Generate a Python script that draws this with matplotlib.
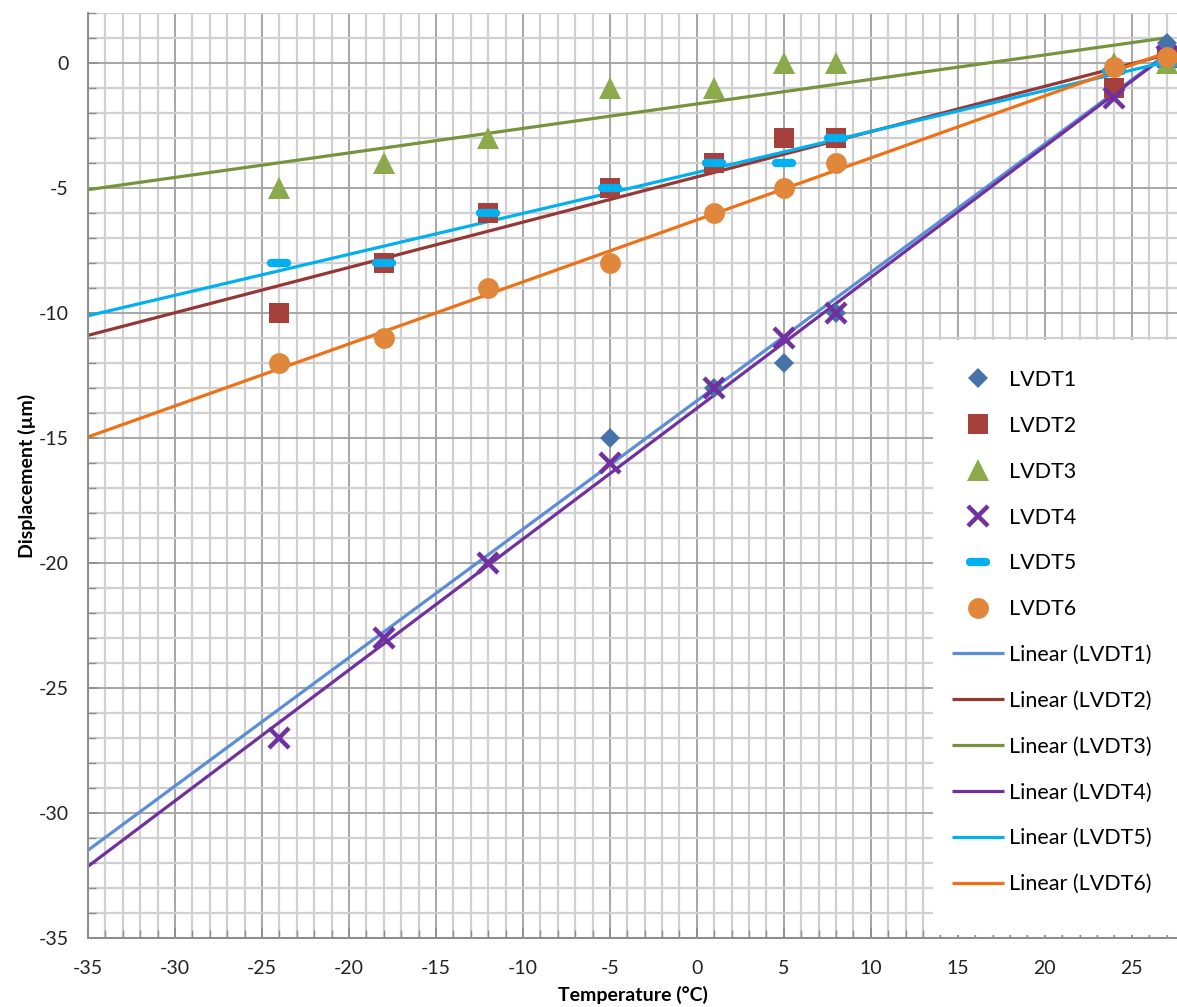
import numpy as np
import matplotlib
matplotlib.use("Agg")
import matplotlib.pyplot as plt
from matplotlib.markers import MarkerStyle
from matplotlib.patches import Rectangle
from matplotlib.ticker import MultipleLocator

plt.rcParams['font.family'] = ['Lato', 'DejaVu Sans']
plt.rcParams['axes.unicode_minus'] = False

# ---- data ----
temperature = [-24, -18, -12, -5, 1, 5, 8, 24, 27]
lvdt1 = [np.nan, np.nan, np.nan, -15, -13, -12, -10, -1, 0.8]
lvdt2 = [-10, -8, -6, -5, -4, -3, -3, -1, 0.2]
lvdt3 = [-5, -4, -3, -1, -1, 0, 0, 0, 0]
lvdt4 = [-27, -23, -20, -16, -13, -11, -10, -1.4, 0.3]
lvdt5 = [-8, -8, -6, -5, -4, -4, -3, -0.3, 0]
lvdt6 = [-12, -11, -9, -8, -6, -5, -4, -0.15, 0.25]

series_names = ["LVDT1", "LVDT2", "LVDT3", "LVDT4", "LVDT5", "LVDT6"]
series_values = [lvdt1, lvdt2, lvdt3, lvdt4, lvdt5, lvdt6]

x_ticks = [-35, -30, -25, -20, -15, -10, -5, 0, 5, 10, 15, 20, 25]
y_ticks = [-35, -30, -25, -20, -15, -10, -5, 0]
X_MIN, X_MAX = -35, 27.6
Y_MIN, Y_MAX = -35, 2

# ---- styles ----
marker_styles = [
    dict(marker='D', ms=10.5, color='#4672AA', mew=0),
    dict(marker='s', ms=14.5, color='#A5403D', mew=0),
    dict(marker='^', ms=16, color='#8AAA4C', mew=0),
    dict(marker='x', ms=15, color='#7030A0', mew=3.2),
    dict(marker=MarkerStyle('_', capstyle='round'), ms=11, color='#00B0F0', mew=6),
    dict(marker='o', ms=15, color='#E0873C', mew=0),
]
line_colors = ['#5B8ED6', '#953735', '#77933C', '#7030A0', '#00B0F0', '#EE7117']

fig = plt.figure(figsize=(11.77, 10.07), dpi=100)
ax = fig.add_axes([0.0748, 0.069, 0.9252, 0.9176])

ax.set_xlim(X_MIN, X_MAX)
ax.set_ylim(Y_MIN, Y_MAX)
ax.xaxis.set_minor_locator(MultipleLocator(1))
ax.yaxis.set_minor_locator(MultipleLocator(1))
ax.set_xticks(x_ticks)
ax.set_yticks(y_ticks)
ax.set_axisbelow(True)
ax.grid(which='minor', color='#D0D0D0', lw=1.6)
ax.grid(which='major', color='#A6A6A6', lw=1.4)

for s in ['top', 'right']:
    ax.spines[s].set_visible(False)
for s in ['left', 'bottom']:
    ax.spines[s].set_color('#8C8C8C')
    ax.spines[s].set_linewidth(1.4)

ax.tick_params(which='both', direction='in', colors='#8C8C8C', labelcolor='#222222')
ax.tick_params(which='major', length=7, width=1.2, labelsize=14, pad=14)
ax.tick_params(which='minor', length=6, width=1.0)
ax.tick_params(axis='x', which='major', pad=16)

handles_pts = []
handles_lines = []
x_arr = np.array(temperature, dtype=float)
for name, vals, st in zip(series_names, series_values, marker_styles):
    h, = ax.plot(temperature, vals, ls='none', label=name, zorder=3,
                 marker=st['marker'], ms=st['ms'], color=st['color'],
                 mec=st['color'], mew=st['mew'], clip_on=False)
    handles_pts.append(h)

for name, vals, c in zip(series_names, series_values, line_colors):
    y_arr = np.array(vals, dtype=float)
    ok = ~np.isnan(y_arr)
    slope, icpt = np.polyfit(x_arr[ok], y_arr[ok], 1)
    xl = np.array([X_MIN, max(temperature)])
    h, = ax.plot(xl, slope * xl + icpt, color=c, lw=2.3, zorder=2,
                 label=f"Linear ({name})", solid_capstyle='butt')
    handles_lines.append(h)

ax.set_xlabel("Temperature (°C)", fontsize=14, fontweight='bold')
ax.xaxis.set_label_coords(0.5, -0.052)
ax.set_ylabel("Displacement (µm)", fontsize=14, fontweight='bold', labelpad=2)

# legend background
bg = Rectangle((933 / 1177, 1 - 935 / 1007), 1 - 933 / 1177, (935 - 340) / 1007,
               transform=fig.transFigure, facecolor='white', edgecolor='none', zorder=4)
ax.add_patch(bg)
bg.set_clip_on(False)

leg = ax.legend(handles_pts + handles_lines,
                [h.get_label() for h in handles_pts + handles_lines],
                loc='upper left', bbox_to_anchor=(952 / 1177, 1 - 370 / 1007),
                bbox_transform=fig.transFigure, frameon=False, fontsize=15.5,
                handlelength=2.4, handletextpad=0.25, labelspacing=1.2,
                borderaxespad=0, borderpad=0, numpoints=1)
leg.set_zorder(5)

fig.savefig("out.png", dpi=100)
